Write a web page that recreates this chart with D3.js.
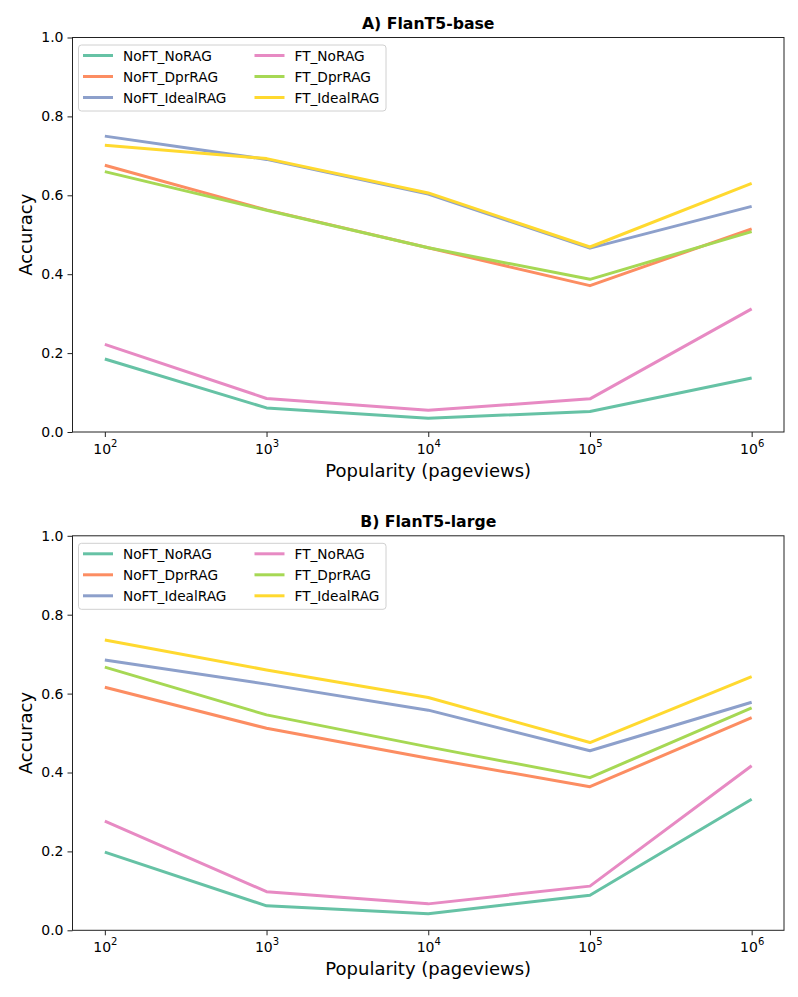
<!DOCTYPE html>
<html>
<head>
<meta charset="utf-8">
<script src="https://cdn.jsdelivr.net/npm/d3@7"></script>
<style>
  body { margin: 0; background: #fff; }
  svg { font-family: "DejaVu Sans", sans-serif; }
</style>
</head>
<body>
<svg id="chart" width="798" height="997"></svg>
<script>
// popularity buckets (pageviews)
const popularity = [1e2, 1e3, 1e4, 1e5, 1e6];
const seriesNames = ['NoFT_NoRAG', 'NoFT_DprRAG', 'NoFT_IdealRAG', 'FT_NoRAG', 'FT_DprRAG', 'FT_IdealRAG'];
const seriesColors = ['#66c2a5', '#fc8d62', '#8da0cb', '#e78ac3', '#a6d854', '#ffd92f'];
const yTicks = [0, 0.2, 0.4, 0.6, 0.8, 1.0];

// A) FlanT5-base
const baseNoFT_NoRAG    = [0.185, 0.061, 0.035, 0.052, 0.137];
const baseNoFT_DprRAG   = [0.676, 0.563, 0.467, 0.371, 0.515];
const baseNoFT_IdealRAG = [0.750, 0.691, 0.603, 0.466, 0.572];
const baseFT_NoRAG      = [0.222, 0.085, 0.055, 0.084, 0.312];
const baseFT_DprRAG     = [0.660, 0.562, 0.467, 0.387, 0.508];
const baseFT_IdealRAG   = [0.727, 0.693, 0.606, 0.469, 0.630];

// B) FlanT5-large
const largeNoFT_NoRAG    = [0.198, 0.062, 0.042, 0.089, 0.332];
const largeNoFT_DprRAG   = [0.616, 0.512, 0.436, 0.364, 0.539];
const largeNoFT_IdealRAG = [0.685, 0.624, 0.558, 0.455, 0.578];
const largeFT_NoRAG      = [0.277, 0.098, 0.067, 0.112, 0.417];
const largeFT_DprRAG     = [0.667, 0.546, 0.465, 0.387, 0.564];
const largeFT_IdealRAG   = [0.736, 0.660, 0.590, 0.476, 0.643];

const panels = [
  { title: 'A) FlanT5-base', top: 37.5,
    series: [baseNoFT_NoRAG, baseNoFT_DprRAG, baseNoFT_IdealRAG, baseFT_NoRAG, baseFT_DprRAG, baseFT_IdealRAG] },
  { title: 'B) FlanT5-large', top: 535.8,
    series: [largeNoFT_NoRAG, largeNoFT_DprRAG, largeNoFT_IdealRAG, largeFT_NoRAG, largeFT_DprRAG, largeFT_IdealRAG] }
];

const left = 72.5, right = 784, plotH = 394.5;
const svg = d3.select('#chart');

// log x with matplotlib-like 5% margins (0.2 decades)
const x = d3.scaleLog()
  .domain([Math.pow(10, 1.8), Math.pow(10, 6.2)])
  .range([left, right]);

panels.forEach((p) => {
  const g = svg.append('g');
  const y = d3.scaleLinear().domain([0, 1]).range([p.top + plotH, p.top]);

  // lines
  const line = d3.line()
    .x((d, i) => x(popularity[i]))
    .y((d) => y(d));

  p.series.forEach((vals, k) => {
    g.append('path')
      .datum(vals)
      .attr('d', line)
      .attr('fill', 'none')
      .attr('stroke', seriesColors[k])
      .attr('stroke-width', 3)
      .attr('stroke-linejoin', 'round');
  });

  // frame
  g.append('rect')
    .attr('x', left).attr('y', p.top)
    .attr('width', right - left).attr('height', plotH)
    .attr('fill', 'none').attr('stroke', '#222').attr('stroke-width', 1);

  // y axis
  const yAxis = d3.axisLeft(y).tickValues(yTicks).tickFormat(d3.format('.1f')).tickSize(5).tickPadding(4);
  const ya = g.append('g').attr('transform', `translate(${left},0)`).call(yAxis);
  ya.select('.domain').remove();
  ya.selectAll('line').attr('stroke', '#222');
  ya.selectAll('text').attr('font-size', 14).attr('fill', '#000')
    .attr('font-family', '"DejaVu Sans", sans-serif');

  // x axis with 10^n labels
  const xAxis = d3.axisBottom(x).tickValues(popularity).tickFormat('').tickSize(5);
  const xa = g.append('g').attr('transform', `translate(0,${p.top + plotH})`).call(xAxis);
  xa.select('.domain').remove();
  xa.selectAll('line').attr('stroke', '#222');
  xa.selectAll('.tick').each(function (d) {
    const t = d3.select(this).append('text')
      .attr('y', 21.5).attr('text-anchor', 'middle')
      .attr('font-size', 14).attr('fill', '#000')
      .attr('font-family', '"DejaVu Sans", sans-serif');
    t.append('tspan').text('10');
    t.append('tspan').attr('dy', -6.5).attr('font-size', 10).text(Math.round(Math.log10(d)));
  });

  // labels
  g.append('text')
    .attr('x', (left + right) / 2).attr('y', p.top + plotH + 44.5)
    .attr('text-anchor', 'middle').attr('font-size', 18)
    .text('Popularity (pageviews)');

  g.append('text')
    .attr('transform', `translate(32,${p.top + plotH / 2}) rotate(-90)`)
    .attr('text-anchor', 'middle').attr('font-size', 18)
    .text('Accuracy');

  g.append('text')
    .attr('x', (left + right) / 2).attr('y', p.top - 8.5)
    .attr('text-anchor', 'middle').attr('font-size', 15.7).attr('font-weight', 'bold')
    .text(p.title);

  // legend, two columns of three
  const lg = g.append('g').attr('transform', `translate(${left + 6},${p.top + 7.5})`);
  lg.append('rect')
    .attr('width', 307.5).attr('height', 66)
    .attr('rx', 3).attr('fill', '#fff').attr('fill-opacity', 0.8)
    .attr('stroke', '#d0d0d0').attr('stroke-width', 1);
  seriesNames.forEach((name, k) => {
    const col = Math.floor(k / 3), row = k % 3;
    const ox = 4.5 + col * 171.5, oy = 10.5 + row * 21;
    lg.append('line')
      .attr('x1', ox).attr('x2', ox + 30)
      .attr('y1', oy).attr('y2', oy)
      .attr('stroke', seriesColors[k]).attr('stroke-width', 3);
    lg.append('text')
      .attr('x', ox + 40).attr('y', oy + 5)
      .attr('font-size', 13.7)
      .text(name);
  });
});
</script>
</body>
</html>
